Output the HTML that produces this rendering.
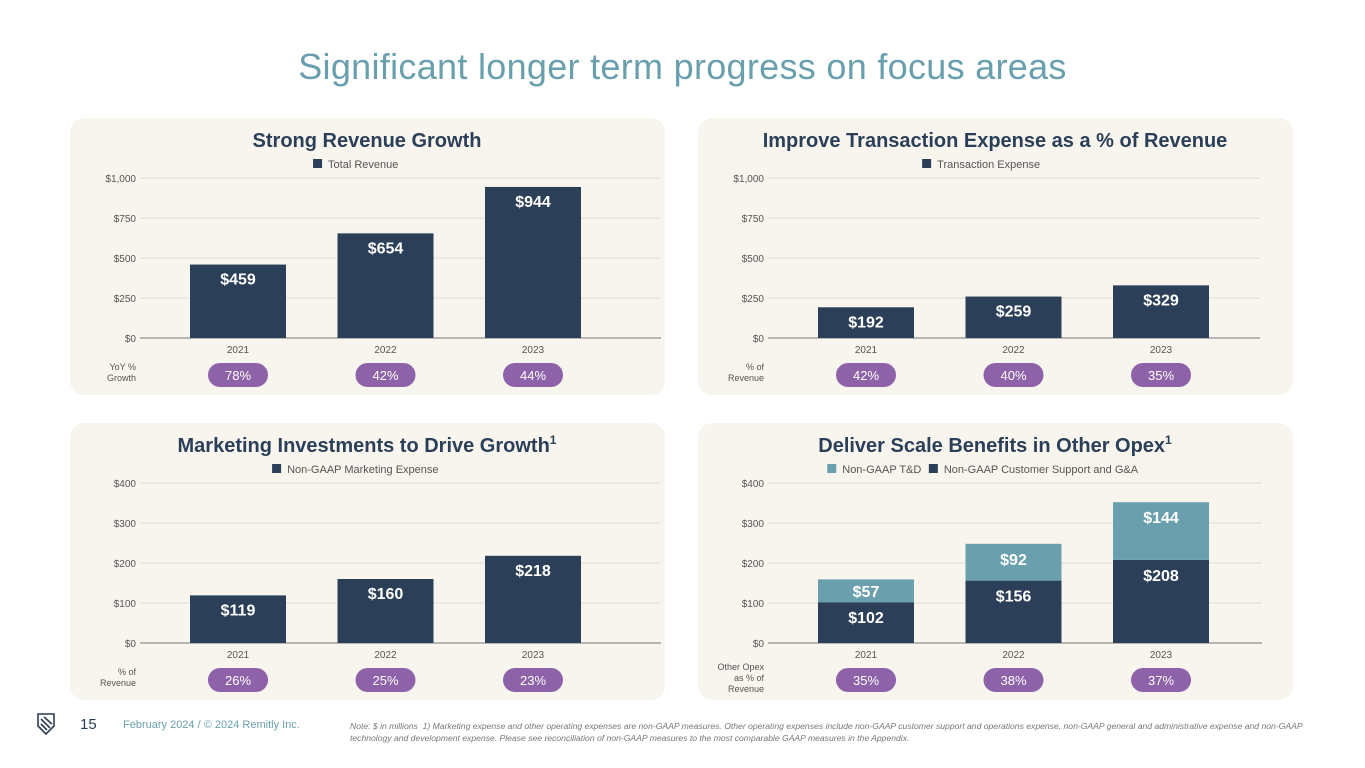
<!DOCTYPE html>
<html><head><meta charset="utf-8">
<style>
html,body{margin:0;padding:0;background:#fff;}
body{width:1365px;height:768px;position:relative;overflow:hidden;font-family:"Liberation Sans",sans-serif;}
#title{position:absolute;left:0;width:1365px;top:46px;text-align:center;font-size:36px;color:#6a9fae;letter-spacing:0.3px;}
.panel{position:absolute;width:595px;height:277px;background:#f8f5ee;border-radius:14px;}
svg text{font-family:"Liberation Sans",sans-serif;}
#foot-num{position:absolute;left:80px;top:716px;font-size:15px;color:#2b3d57;}
#foot-date{position:absolute;left:123px;top:719px;font-size:11px;color:#6a9fae;}
#foot-note{position:absolute;left:350px;top:720px;width:960px;font-size:8.6px;line-height:12px;color:#777;font-style:italic;}
</style></head><body>
<div id="title">Significant longer term progress on focus areas</div>
<div class="panel" style="left:70px;top:118px"></div>
<div class="panel" style="left:698px;top:118px"></div>
<div class="panel" style="left:70px;top:423px"></div>
<div class="panel" style="left:698px;top:423px"></div>
<svg id="chart" width="1365" height="768" style="position:absolute;left:0;top:0"></svg>
<svg style="position:absolute;left:36px;top:712px" width="20" height="24"><path d="M2 2 L18 2 L18 14 L10 22 L2 14 Z M5 7 L14 16 M5 12 L11 18 M8 5 L16 12" fill="none" stroke="#2b3d57" stroke-width="1.6"/></svg>
<div id="foot-num">15</div>
<div id="foot-date">February 2024 / © 2024 Remitly Inc.</div>
<div id="foot-note">Note: $ in millions&nbsp; 1) Marketing expense and other operating expenses are non-GAAP measures. Other operating expenses include non-GAAP customer support and operations expense, non-GAAP general and administrative expense and non-GAAP technology and development expense. Please see reconciliation of non-GAAP measures to the most comparable GAAP measures in the Appendix.</div>
<script>
const years = ["2021","2022","2023"];
const revenue = [459,654,944];
const revenueGrowth = ["78%","42%","44%"];
const revTicks = [0,250,500,750,1000];
const txExpense = [192,259,329];
const txPct = ["42%","40%","35%"];
const mktExpense = [119,160,218];
const mktPct = ["26%","25%","23%"];
const smallTicks = [0,100,200,300,400];
const opexSupport = [102,156,208];
const opexTD = [57,92,144];
const opexPct = ["35%","38%","37%"];

const NS="http://www.w3.org/2000/svg";
const svg=document.getElementById('chart');
function mk(tag,attrs,txt){const e=document.createElementNS(NS,tag);for(const k in attrs)e.setAttribute(k,attrs[k]);if(txt!==undefined)e.textContent=txt;svg.appendChild(e);return e;}
const DARK="#2b3f59", LIGHT="#6a9fae", PURPLE="#8e62a8";

function drawChart(px,py,title,sup,legend,legendColors,ticks,series,colors,pctLabel,pcts,prefix,labX,gEnd){
  const zeroY=py+220, topY=py+60, gx0=px+labX+4, gx1=px+gEnd;
  const maxV=ticks[ticks.length-1];
  const y=v=>zeroY-(v/maxV)*(zeroY-topY);
  const cx=i=>px+168+i*147.5;
  let t=mk('text',{x:px+297,y:py+29,'text-anchor':'middle','font-size':20,'font-weight':'bold',fill:DARK},title);
  
  
  if(sup){const s=document.createElementNS(NS,'tspan');s.setAttribute('font-size',12);s.setAttribute('dy',-8);s.textContent='1';t.appendChild(s);}
  let lw=legend.reduce((a,l)=>a+l.length*6.3+26,0);
  let lx=px+297-lw/2;
  legend.forEach((l,k)=>{
    const r=mk('rect',{x:lx,y:py+41,width:9,height:9,fill:legendColors[k]});
    
    
    const lt=mk('text',{x:lx+15,y:py+50,'font-size':11,fill:'#555'},l);
    
    
    lx+=l.length*6.3+26;
  });
  ticks.forEach(v=>{
    const g=mk('line',{x1:gx0,x2:gx1,y1:y(v),y2:y(v),stroke:v===0?'#777':'#e0ddd6','stroke-width':1});
    
    
    const tl=mk('text',{x:px+labX,y:y(v)+4,'text-anchor':'end','font-size':10,fill:'#555'},'$'+v.toLocaleString('en-US'));
    
    
  });
  years.forEach((yr,i)=>{
    let base=0;
    series.forEach((s,k)=>{
      const v=s[i];
      const top=y(base+v), h=y(base)-top;
      const b=mk('rect',{x:cx(i)-48,y:top,width:96,height:h,fill:colors[k]});
      
      
      const ly=series.length>1 ? Math.min(top+21,top+h/2+6) : top+20;
      const vl=mk('text',{x:cx(i),y:ly,'text-anchor':'middle','font-size':16,'font-weight':'bold',fill:'#fff'},'$'+v);
      
      
      base+=v;
    });
    const xl=mk('text',{x:cx(i),y:zeroY+15,'text-anchor':'middle','font-size':10,fill:'#555'},yr);
    
    
    const p=mk('rect',{x:cx(i)-30,y:zeroY+25,width:60,height:24,rx:12,fill:PURPLE});
    
    
    const pt=mk('text',{x:cx(i),y:zeroY+42,'text-anchor':'middle','font-size':13,fill:'#fff'},pcts[i]);
    
    
  });
  const startY=zeroY+32-(pctLabel.length-2)*5;
  pctLabel.forEach((ln,j)=>{
    const r=mk('text',{x:px+labX,y:startY+j*11,'text-anchor':'end','font-size':9,fill:'#555'},ln);
    
    
  });
}
drawChart(70,118,'Strong Revenue Growth',false,['Total Revenue'],[DARK],revTicks,[revenue],[DARK],['YoY %','Growth'],revenueGrowth,'revenue',66,591);
drawChart(698,118,'Improve Transaction Expense as a % of Revenue',false,['Transaction Expense'],[DARK],revTicks,[txExpense],[DARK],['% of','Revenue'],txPct,'transaction',66,562);
drawChart(70,423,'Marketing Investments to Drive Growth',true,['Non-GAAP Marketing Expense'],[DARK],smallTicks,[mktExpense],[DARK],['% of','Revenue'],mktPct,'marketing',66,591);
drawChart(698,423,'Deliver Scale Benefits in Other Opex',true,['Non-GAAP T&D','Non-GAAP Customer Support and G&A'],[LIGHT,DARK],smallTicks,[opexSupport,opexTD],[DARK,LIGHT],['Other Opex','as % of','Revenue'],opexPct,'opex',66,564);
</script>
</body></html>
